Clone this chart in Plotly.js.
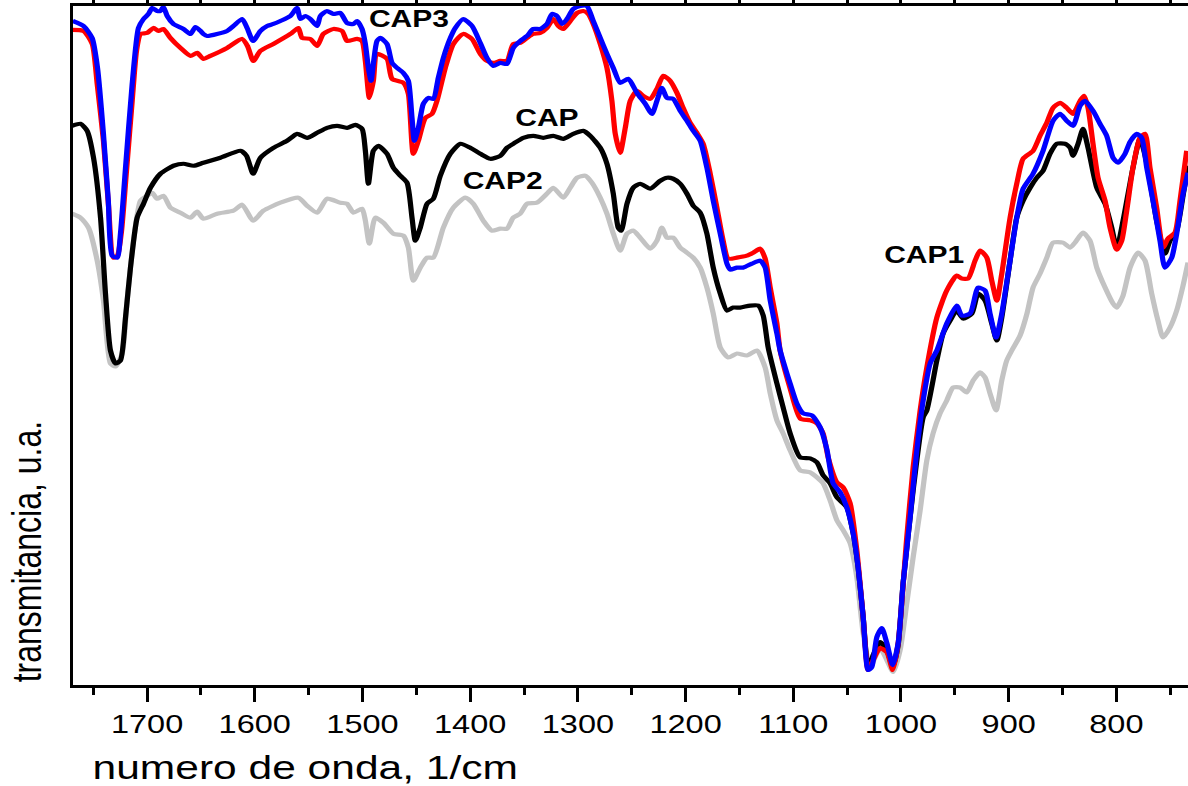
<!DOCTYPE html>
<html>
<head>
<meta charset="utf-8">
<script src="https://cdn.plot.ly/plotly-3.0.1.min.js"></script>
<style>
  html, body { margin: 0; padding: 0; background: #ffffff; overflow: hidden; }
  #chart { width: 950px; height: 786px; transform: scaleX(1.250526); transform-origin: 0 0; }
</style>
</head>
<body>
<div id="chart"></div>
<script>
// FTIR spectra, wavenumber (1/cm) vs transmittance (arbitrary units)

// CAP3 (blue)
const wnCAP3 = [1769,1759,1751,1746,1740.5,1736,1732.4,1727.7,1724.7,1720,
  1713.8,1708,1703.3,1698.7,1695.3,1690.6,1687.6,1684.8,1681.3,1675.5,
  1666.2,1659.7,1655.1,1650.4,1647.7,1644.2,1625.7,1619.8,1611.7,1607.1,
  1601.5,1594.8,1588.5,1582.7,1576.2,1566.9,1560.7,1557.6,1553,1548.4,
  1542.1,1539.1,1532.9,1527,1520.5,1514.3,1508.4,1505,1500.4,1497.3,
  1494.5,1492,1489.9,1486.5,1483.4,1477.2,1472.5,1467.9,1462,1457.4,
  1454,1451.8,1448.1,1443.5,1438.8,1434.2,1429.6,1424.9,1418.4,1413.8,
  1406.4,1398.3,1390.6,1384.4,1378.5,1372,1365.8,1360,1353.5,1347.2,
  1341.4,1334.9,1328.7,1324,1319.4,1314.5,1310.1,1304.3,1297.8,1291.6,
  1285.7,1279.2,1273,1267.1,1260.7,1253.2,1245.2,1237.4,1231.2,1226.6,
  1222,1217.3,1211.5,1205,1198.7,1192.9,1186.4,1180.2,1174.3,1167.8,
  1161.6,1158.6,1152.3,1146.5,1138.4,1130.7,1126.1,1121.4,1115.2,1112.2,
  1105.9,1102.9,1096.7,1090.8,1082.7,1075,1068.8,1063,1056.5,1050.3,
  1044.4,1039.8,1035.1,1030.5,1027.1,1022.4,1017.8,1013.1,1007.6,1002.6,
  998,991.5,985.3,979.4,972.9,966.7,957.5,948.2,943.5,935.8,
  928.4,921.9,917.3,911.7,906.4,898.7,892.5,886.6,877.4,868.1,
  858.8,852.3,846.1,840.2,833.7,829.1,821.7,815.2,809,803.1,
  798.5,792,787.3,781.1,776.5,771.8,766,759.5,754.9,748.6,
  744,738.1,733.5];
const tCAP3 = [66.5,66.0,64.8,61.8,55.2,48.5,43.0,42.8,45.2,51.8,
  60.2,65.8,66.7,67.2,67.8,67.5,67.5,67.9,67.0,66.2,
  65.7,65.2,65.9,65.5,65.2,65.0,65.5,66.0,66.7,65.8,
  64.5,65.5,66.0,66.2,66.5,67.0,67.8,66.7,67.0,66.7,
  66.0,67.0,67.5,67.2,67.3,66.3,66.2,66.5,65.7,64.2,
  61.8,60.5,62.2,64.5,64.8,64.2,62.3,61.8,61.3,60.5,
  56.8,54.5,55.8,58.2,58.8,58.7,60.8,62.8,64.8,65.8,
  66.7,66.0,64.3,62.8,62.0,62.3,62.2,63.8,64.5,65.0,
  65.7,65.7,66.2,67.2,67.0,66.2,66.7,67.7,68.0,68.0,
  66.5,64.8,63.2,61.8,60.3,60.7,59.3,58.2,57.2,58.5,
  59.8,58.8,58.7,57.5,56.5,55.5,54.5,51.8,48.5,45.2,
  42.2,41.6,41.8,41.8,42.2,42.5,41.8,38.5,35.2,33.5,
  31.2,30.2,28.2,27.2,27.0,25.8,23.6,20.2,19.3,17.8,
  15.2,11.8,6.8,1.5,1.8,4.8,5.7,4.2,2.0,4.2,
  10.2,16.8,23.5,28.5,32.2,33.5,36.2,38.0,37.0,37.2,
  39.8,39.5,37.2,34.8,37.2,42.5,46.8,49.7,51.2,53.5,
  56.5,57.2,56.5,56.0,58.0,58.5,57.5,56.2,55.0,52.8,
  52.3,53.2,54.4,55.2,54.8,51.8,48.5,44.5,41.8,42.8,
  45.2,49.2,51.3];

// CAP1 (red)
const wnCAP1 = [1769.5,1759,1750.9,1746.3,1740.5,1735.8,1731.2,1727.5,1723.7,1719.1,
  1713.8,1709.8,1706.1,1699.9,1694.1,1689.4,1684.8,1678.3,1669,1659.7,
  1653.5,1647.7,1641.2,1625.7,1611.7,1606.8,1601.3,1594.8,1582.7,1566.9,
  1559.5,1556.1,1548.4,1542.1,1536.3,1527,1518.9,1514.3,1505,1500.4,
  1497.3,1493.6,1489.9,1486.5,1477.2,1472.5,1462,1457.4,1452.8,1448.1,
  1441.6,1435.4,1430.8,1423.1,1415.6,1406.4,1398.3,1390.6,1384.4,1378.5,
  1372,1365.8,1360,1353.5,1347.2,1341.4,1334.9,1328.7,1322.8,1318.2,
  1313.6,1307.1,1300.8,1295,1290.3,1285.7,1279.2,1273,1268.4,1265.3,
  1260.7,1256,1251.4,1245.2,1239.3,1232.8,1226.6,1220.7,1214.2,1208,
  1202.2,1195.7,1189.5,1183.6,1177.1,1170.9,1165.1,1160.4,1152.3,1143.1,
  1137.2,1130.7,1126.1,1121.4,1115.2,1112.2,1102.9,1093.6,1084.3,1078.1,
  1072.3,1067.6,1059.5,1053.7,1047.2,1041,1035.1,1030.5,1025.8,1019.4,
  1013.1,1007.6,1002.6,994.6,988.7,982.2,976,966.7,957.5,948.2,
  943.5,937.7,931.2,926.5,920.3,915.7,911,906.4,898.7,892.5,
  886.6,877.4,870.9,864.6,858.8,852.3,846.1,840.2,833.7,830,
  826.3,821.7,817,810.5,805.9,799.7,795,790.4,784.6,778.1,
  773.4,768.8,762.6,756.7,752.1,745.6,740.9,734.7];
const tCAP1 = [65.6,65.5,64.2,60.2,54.5,48.0,42.8,43.0,45.5,51.5,
  58.5,63.5,65.2,65.3,65.8,65.5,65.7,64.8,63.8,63.0,
  63.3,62.7,63.0,63.8,64.7,64.0,62.5,63.5,64.2,65.2,
  65.8,64.8,64.7,64.0,65.2,65.7,65.5,64.5,64.7,64.5,
  62.5,58.8,60.5,63.2,62.7,60.7,60.3,59.2,53.2,54.5,
  56.8,57.2,58.5,61.8,64.2,65.2,64.7,63.2,62.5,62.3,
  62.5,62.5,64.2,64.3,64.8,65.2,65.3,65.8,66.7,66.0,
  65.7,66.5,67.3,67.5,67.2,66.2,64.2,61.8,58.5,55.2,
  53.3,55.8,58.5,59.5,59.0,58.7,59.7,61.0,60.5,59.3,
  57.8,56.3,55.3,54.2,51.2,47.8,44.5,42.7,42.8,43.0,
  43.3,43.7,42.7,39.8,36.2,33.5,29.7,26.7,26.5,26.2,
  25.2,22.8,20.3,19.8,18.2,13.5,6.8,1.5,2.5,3.7,
  3.3,1.5,4.2,14.8,21.8,27.5,31.8,36.8,39.5,41.0,
  40.7,40.7,42.5,43.5,42.8,40.5,38.5,41.2,46.8,50.2,
  52.7,53.5,55.0,56.3,57.8,58.3,57.8,57.2,58.5,59.0,
  57.8,54.2,50.8,48.5,45.8,43.6,44.5,47.5,51.8,54.8,
  55.2,51.8,47.8,43.8,44.7,45.3,48.5,53.5];

// CAP (black)
const wnCAP = [1769.5,1761.8,1755.6,1749.7,1743.2,1738.6,1734,1729.3,1724.7,1720,
  1715.4,1709.2,1703.3,1696.8,1687.6,1675.5,1666.2,1656.9,1647.7,1631.9,
  1613.3,1607.7,1601.5,1594.8,1582.7,1570,1560.7,1551.4,1542.1,1532.9,
  1523.6,1514.3,1506.6,1500.4,1497.3,1494.5,1489.9,1485.2,1477.2,1471.3,
  1464.8,1458.6,1454,1450.9,1446.3,1440,1434.2,1427.7,1418.4,1409.1,
  1399.9,1390.6,1381.3,1372,1365.8,1360,1350.7,1341.4,1332.1,1322.8,
  1313.6,1304.3,1295,1288.5,1279.2,1273,1267.1,1262.5,1259.7,1254.4,
  1248.6,1242.1,1232.8,1223.5,1217.3,1211.5,1205,1198.7,1192.9,1186.4,
  1180.2,1174.3,1167.8,1161.6,1155.8,1149.3,1140,1132.6,1127.9,1123.3,
  1115.2,1109.4,1102.9,1093.6,1084.3,1078.1,1072.3,1065.8,1059.5,1050.3,
  1044.4,1039.8,1035.1,1030.5,1025.8,1019.4,1013.1,1007.6,1002.6,998,
  988.7,979.4,976,966.7,960.9,954.4,948.2,942.3,934.2,928.4,
  921.9,915.7,911,906.4,898.7,892.5,886.6,880.1,873.9,868.1,
  861.6,855.4,847.7,843,840.2,835.6,831,826.3,818.2,810.5,
  804.3,799.7,793.8,784.6,778.1,771.8,762.6,754.9,750.2,744,
  738.1,733.5];
const tCAP = [56.0,56.2,55.5,52.8,46.8,39.2,33.5,32.2,32.5,36.8,
  41.8,46.8,48.2,49.8,51.2,52.0,52.2,52.0,52.3,52.8,
  53.5,53.0,51.2,52.8,53.8,54.5,55.2,54.8,55.3,55.8,
  56.0,55.8,56.1,55.7,53.5,50.2,53.5,54.0,53.2,51.8,
  51.0,50.3,46.8,44.5,45.8,48.2,48.7,51.0,53.2,54.2,
  53.8,53.2,52.7,53.0,53.8,54.2,54.8,55.0,54.8,55.0,
  54.7,55.2,55.5,55.0,53.8,52.2,49.2,45.8,45.5,48.2,
  49.8,50.2,49.7,50.5,50.8,50.7,50.2,49.2,48.0,47.3,
  45.2,41.8,39.2,37.5,37.8,37.8,38.0,38.0,37.0,33.8,
  30.2,27.8,25.2,22.8,22.7,22.3,21.0,20.2,18.8,17.8,
  15.2,11.8,6.8,1.7,3.0,4.3,3.5,1.8,4.0,10.2,
  19.5,26.8,27.5,32.5,35.2,36.5,37.5,36.7,37.2,39.2,
  38.5,36.2,34.5,36.8,42.5,46.8,48.5,49.8,50.8,51.5,
  53.2,54.2,54.2,53.8,53.0,54.2,55.7,53.8,49.8,48.2,
  45.8,43.7,46.5,51.8,54.7,52.3,46.5,43.2,44.5,45.5,
  49.0,52.0];

// CAP2 (grey)
const wnCAP2 = [1769.5,1761.8,1754.4,1746.3,1740.5,1734,1729.3,1723.1,1718.5,1712.6,
  1706.1,1699.9,1695.3,1690.6,1684.8,1678.3,1669,1659.7,1653.5,1647.7,
  1634.9,1619.8,1611.7,1601.5,1592,1576.2,1559.5,1551.4,1542.1,1532.9,
  1520.5,1514.3,1508.4,1500.4,1497.3,1493.6,1488,1480.6,1471.3,1462,
  1457.4,1452.8,1446.3,1440,1434.2,1424.9,1415.6,1404.5,1397.1,1387.8,
  1379.7,1372,1365.8,1360,1353.5,1347.2,1338,1328.7,1322.8,1313.6,
  1307.1,1300.8,1293.1,1286.9,1279.2,1273,1267.1,1260.7,1254.4,1248.6,
  1242.1,1232.8,1226.6,1222,1217.3,1211.5,1205,1198.7,1192.9,1186.4,
  1180.2,1174.3,1167.8,1160.4,1152.3,1143.1,1133.8,1126.1,1121.4,1115.2,
  1109.4,1102.9,1093.6,1084.3,1078.1,1072.3,1065.8,1059.5,1053.7,1047.2,
  1041,1035.1,1028.6,1024,1019.4,1013.1,1007.3,1000.8,994.6,988.7,
  982.2,976,970.2,963.7,957.5,951.6,945.1,938.9,933,926.5,
  921.9,917.3,911.7,906.4,901.8,897.1,889.4,883,877.4,870.9,
  864.6,858.8,849.5,843,838.4,831,824.5,818.2,810.5,803.1,
  799.7,793.8,787.3,779.9,773.4,767.2,761.4,756.7,750.2,744,
  738.1,733.5];
const tCAP2 = [47.2,46.8,45.8,42.5,38.5,32.2,31.9,33.2,38.5,44.5,
  48.5,49.0,49.3,48.7,49.0,47.8,47.3,46.8,47.4,46.7,
  47.2,47.5,48.1,46.5,47.5,48.3,48.8,48.0,47.3,48.7,
  48.3,48.2,47.3,47.7,46.5,44.2,46.8,46.3,45.2,45.0,
  43.8,40.5,41.8,42.8,42.8,45.8,47.8,48.8,48.2,46.5,
  45.5,45.7,45.7,46.8,47.2,48.2,48.3,49.2,49.8,48.8,
  49.8,50.8,51.0,50.3,48.8,47.2,45.2,43.5,45.2,45.5,
  44.8,43.7,44.5,45.8,44.8,44.8,43.8,43.3,42.8,41.8,
  39.8,37.2,33.8,32.8,33.2,33.0,33.5,31.8,29.2,26.5,
  25.2,23.5,21.5,21.3,20.8,20.2,18.5,16.5,15.5,14.2,
  10.8,5.2,1.7,2.8,3.7,2.5,1.3,3.5,8.2,12.8,
  17.5,22.5,25.2,27.2,28.5,29.8,29.8,29.3,30.5,31.3,
  30.8,29.2,27.5,30.5,32.5,33.5,35.0,37.2,39.8,41.2,
  42.8,44.3,44.3,43.8,44.3,45.3,44.5,41.8,39.8,38.2,
  37.8,39.0,41.8,43.3,42.5,39.2,36.5,34.8,35.8,37.5,
  40.0,42.3];

// Curve labels
const labelText = ['CAP3', 'CAP', 'CAP2', 'CAP1'];
const labelWn   = [1457, 1329, 1370, 978];
const labelT    = [66.75, 56.8, 50.5, 43.1];

const FONT = 'Liberation Sans, Arial, Helvetica, sans-serif';

function spectrum(x, y, color) {
  return {
    x: x, y: y, type: 'scatter', mode: 'lines',
    line: { color: color, width: 4.2, shape: 'spline', smoothing: 0.6 },
    hoverinfo: 'skip', showlegend: false
  };
}

const traces = [
  spectrum(wnCAP2, tCAP2, '#c3c3c3'),
  spectrum(wnCAP, tCAP, '#000000'),
  spectrum(wnCAP1, tCAP1, '#ff0000'),
  spectrum(wnCAP3, tCAP3, '#0000ff')
];

const annotations = labelText.map((t, i) => ({
  x: labelWn[i], y: labelT[i], xref: 'x', yref: 'y',
  text: '<b>' + t + '</b>', showarrow: false,
  xanchor: 'center', yanchor: 'middle',
  font: { family: FONT, size: 24, color: '#000000' }
}));

annotations.push({
  xref: 'paper', yref: 'paper', x: 0.2084, y: -0.1208,
  text: 'numero de onda, 1/cm', showarrow: false,
  xanchor: 'center', yanchor: 'middle',
  font: { family: FONT, size: 34, color: '#000000' }
});
annotations.push({
  xref: 'paper', yref: 'paper', x: -0.0408, y: 0.1963,
  text: 'transmitancia, u.a.', showarrow: false, textangle: -90,
  xanchor: 'center', yanchor: 'middle',
  font: { family: FONT, size: 32, color: '#000000' }
});

const layout = {
  width: 950, height: 786,
  margin: { l: 58, r: 0, t: 6, b: 101, pad: 0 },
  paper_bgcolor: '#ffffff', plot_bgcolor: '#ffffff',
  font: { family: FONT, color: '#000000' },
  showlegend: false,
  xaxis: {
    range: [1769.2, 733.5], autorange: false,
    showgrid: false, zeroline: false,
    showline: true, linecolor: '#000000', linewidth: 3, mirror: 'ticks',
    ticks: 'outside', ticklen: 14, tickwidth: 2.4, tickcolor: '#000000',
    tick0: 0, dtick: 100,
    tickfont: { family: FONT, size: 26, color: '#000000' },
    minor: { tick0: 0, dtick: 50, ticks: 'outside', ticklen: 7, tickwidth: 2.4, tickcolor: '#000000', showgrid: false },
    automargin: false
  },
  yaxis: {
    range: [0, 68], autorange: false,
    showgrid: false, zeroline: false,
    showline: true, linecolor: '#000000', linewidth: 2.4,
    ticks: '', showticklabels: false, automargin: false
  },
  annotations: annotations
};

Plotly.newPlot('chart', traces, layout, { displayModeBar: false, staticPlot: true });
</script>
</body>
</html>
